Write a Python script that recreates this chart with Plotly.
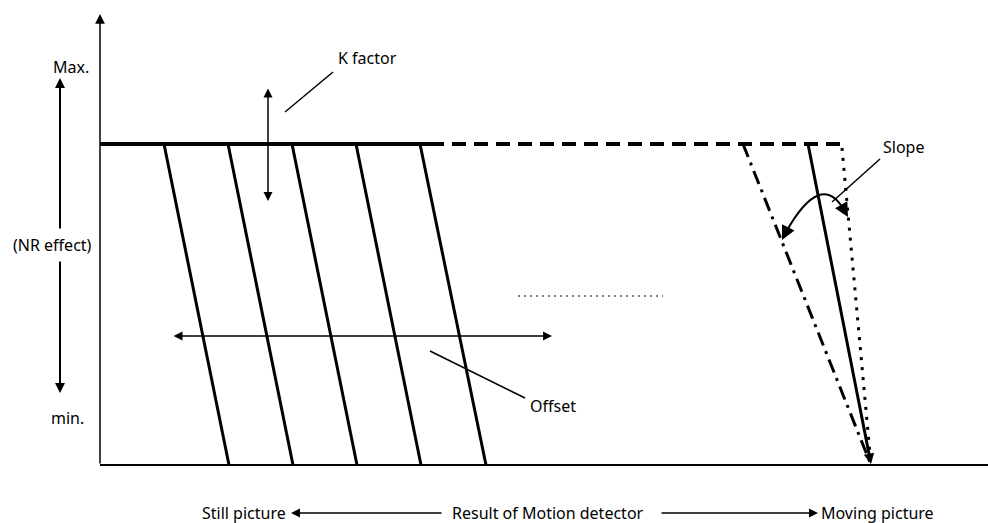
import plotly.graph_objects as go

# ---- diagram geometry (diagram units = pixels of the reference layout) ----
origin = (100, 465)
axis_top_y = 14
axis_right_x = 988
max_level_y = 144

# solid "K factor" plateau and the dashed continuation
plateau_solid_x = [100, 430]
plateau_dashed_x = [430, 842]

# five offset curves (top x at max level, bottom x at min level)
offset_top_x = [164, 228, 292, 356, 420]
offset_bottom_x = [229, 293, 357, 421, 486]

# three slope curves on the right, converging at the same bottom point
slope_top_x = {"dashdot": 743, "solid": 808, "dot": 842}
slope_bottom_x = 871

# annotation labels
labels = {
    "Max.": (71, 67),
    "(NR effect)": (52, 245),
    "min.": (67, 418),
    "K factor": (367, 58),
    "Slope": (903, 147),
    "Offset": (553, 406),
    "Still picture": (244, 513),
    "Result of Motion detector": (548, 513),
    "Moving picture": (877, 513),
}

FONT = dict(family="Noto Sans, DejaVu Sans, sans-serif", size=16, color="black")

fig = go.Figure()


def seg(x, y, width=2, dash="solid"):
    fig.add_trace(go.Scatter(x=x, y=y, mode="lines",
                             line=dict(color="black", width=width, dash=dash),
                             hoverinfo="skip", showlegend=False))


annos = []


def arrow(tip, tail, width=1.5, side="end", size=1.0, head=2):
    annos.append(dict(x=tip[0], y=tip[1], ax=tail[0], ay=tail[1],
                      xref="x", yref="y", axref="x", ayref="y",
                      showarrow=True, arrowhead=head, startarrowhead=head,
                      arrowsize=size, startarrowsize=size,
                      arrowwidth=width, arrowcolor="black",
                      arrowside=side, text=""))


# axes
arrow((origin[0], axis_top_y), (origin[0], origin[1]), width=1.5, size=1.3)
seg([origin[0], axis_right_x], [origin[1], origin[1]], width=2)

# NR effect arrow (left)
arrow((60, 78), (60, 230), width=2, size=1.0)
arrow((60, 393), (60, 260), width=2, size=1.0)

# plateau
seg(plateau_solid_x, [max_level_y, max_level_y], width=4)
seg(plateau_dashed_x, [max_level_y, max_level_y], width=4, dash="14px,8px")

# offset curves
for xt, xb in zip(offset_top_x, offset_bottom_x):
    seg([xt, xb], [max_level_y, origin[1]], width=3)

# K factor double arrow + leader
arrow((268, 201), (268, 87), width=1.5, side="end+start", size=1.2)
seg([285, 333], [112, 72], width=1.5)

# Offset double arrow + leader
arrow((552, 336), (172, 336), width=1.5, side="end+start", size=1.2)
seg([430, 525], [351, 398], width=1.5)

# thin dotted "..." line
seg([518, 663], [296, 296], width=1.2, dash="2px,4px")

# slope curves
seg([slope_top_x["dashdot"], slope_bottom_x], [max_level_y, origin[1]], width=3,
    dash="14px,6px,3px,6px")
seg([slope_top_x["dot"], slope_bottom_x], [max_level_y + 4, origin[1]], width=3,
    dash="3px,7px")
arrow((slope_bottom_x, origin[1] - 1), (slope_top_x["solid"], max_level_y),
      width=3, size=0.7)

# curved slope arrow
fig.add_shape(type="path", path="M 786,232 Q 821,170 844,210",
              xref="x", yref="y", line=dict(color="black", width=2))
arrow((782, 240), (787, 230), width=2, size=1.4)
arrow((848, 217), (843, 208), width=2, size=1.4)
seg([832, 880], [202, 159], width=1.5)

# bottom caption arrows
arrow((291, 513), (443, 513), width=1.5, size=1.2)
arrow((818, 513), (660, 513), width=1.5, size=1.2)

for txt, (x, y) in labels.items():
    annos.append(dict(x=x, y=y, xref="x", yref="y", text=txt, showarrow=False,
                      font=FONT, xanchor="center", yanchor="middle"))

fig.update_layout(
    width=988, height=523,
    margin=dict(l=0, r=0, t=0, b=0),
    paper_bgcolor="white", plot_bgcolor="white",
    xaxis=dict(range=[0, 988], visible=False, fixedrange=True),
    yaxis=dict(range=[523, 0], visible=False, fixedrange=True),
    annotations=annos,
    showlegend=False,
)

fig.write_html("out.html", config={"displayModeBar": False},
               post_script="document.body.style.margin='0';document.body.style.overflow='hidden';")
